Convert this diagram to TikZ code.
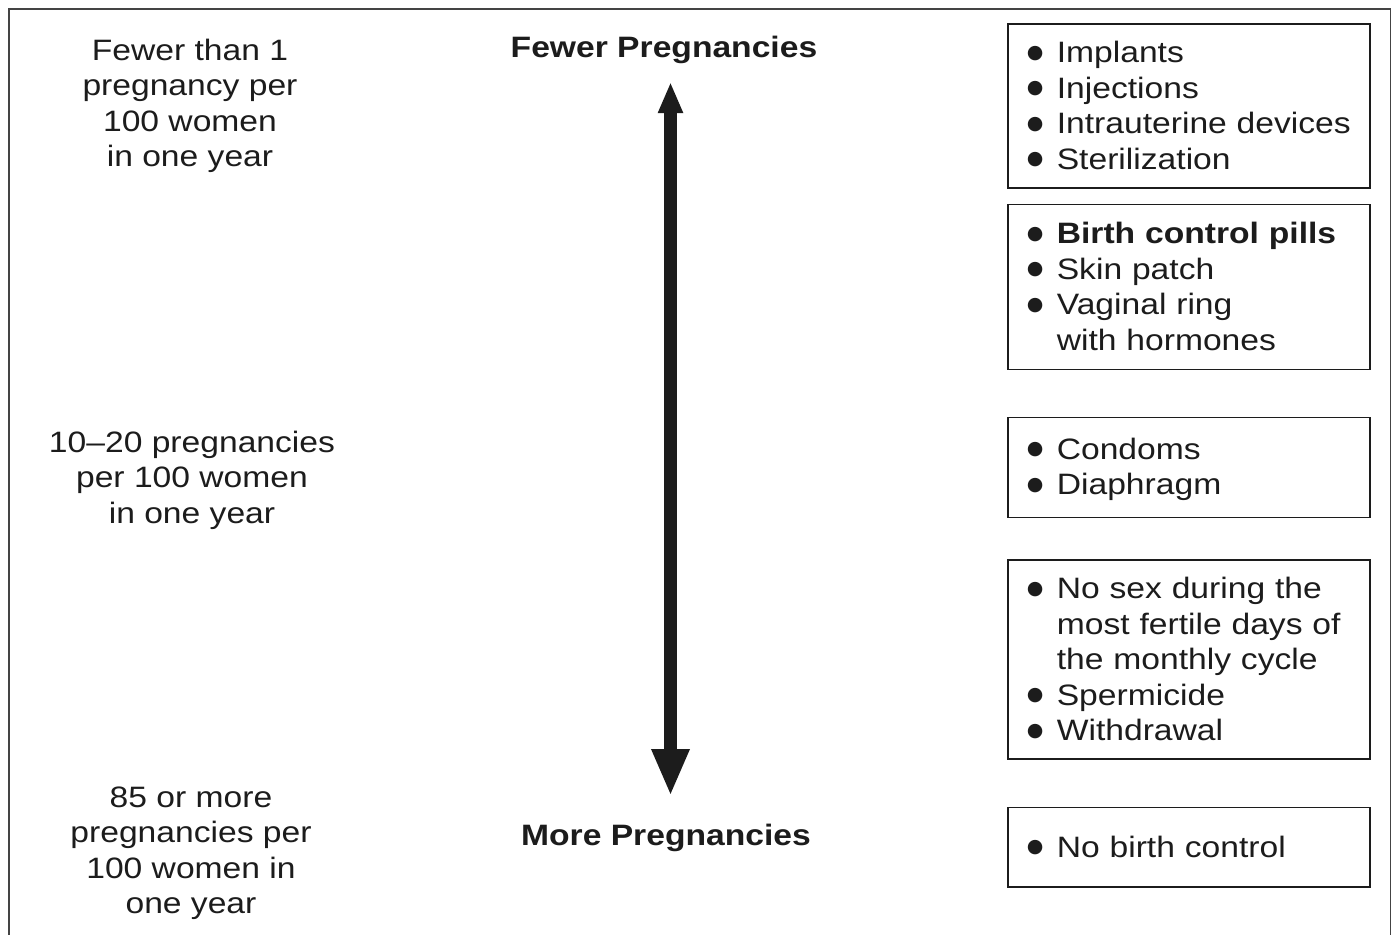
\documentclass[tikz,border=0pt]{standalone}
\usepackage{fontspec}
\setmainfont{Liberation Sans}[FakeStretch=1.14]
\newfontfamily\bulfont{DejaVu Sans}
\usetikzlibrary{arrows.meta}
\definecolor{ink}{HTML}{1C1C1C}
\definecolor{framec}{HTML}{444444}
\newcommand\bul{\makebox[31pt][l]{\hspace{1pt}\raisebox{4.5pt}{\bulfont\fontsize{19pt}{19pt}\selectfont ●}}}
\newcommand\ind{\hspace*{31pt}}
\newcommand\topS{\rule{0pt}{26pt}}
\newcommand\botS{\rule[-6pt]{0pt}{6pt}}
\newcommand\bitem[1]{\mbox{\bul #1}}
\newcommand\citem[1]{\mbox{\ind #1}}
\begin{document}
\begin{tikzpicture}[x=1pt,y=-1pt,
  every node/.style={text=ink, font=\fontsize{29.5pt}{35.5pt}\selectfont},
  lbl/.style={anchor=north, align=center, inner sep=0pt},
  head/.style={anchor=base, inner sep=0pt, font=\fontsize{29.5pt}{35.5pt}\selectfont\bfseries},
  boxn/.style={draw=ink, line width=1.6pt, anchor=north west, inner xsep=18pt,
    inner ysep=0pt, text width=326pt, align=left},
  bigarrow/.style={draw=ink, line width=12.5pt,
    {Triangle[length=31pt,width=23pt]}-{Triangle[length=47pt,width=35pt]}}]
\useasboundingbox (0,0) rectangle (1394,934);
\fill[white] (0,0) rectangle (1394,934);
\draw[framec, line width=1.6pt] (9,9) rectangle (1390.5,960);

% left column labels
\node[lbl] (r1) at (190,34) {\topS Fewer than 1\\pregnancy per\\100 women\\in one year};
\node[lbl] (r2) at (192,426) {\topS 10–20 pregnancies\\per 100 women\\in one year};
\node[lbl] (r3) at (191,781) {\topS 85 or more\\pregnancies per\\100 women in\\one year};

% middle headings and arrow
\node[head] (few) at (664,57) {Fewer Pregnancies};
\node[head] (more) at (666,845) {More Pregnancies};
\coordinate (atop) at (670.5,82);
\coordinate (abot) at (670.5,796);
\draw[bigarrow] (atop) -- (abot);

% right boxes
\node[boxn, minimum height=164pt] (b1) at (1007,23)
  {\topS\bitem{Implants}\\\bitem{Injections}\\\bitem{Intrauterine devices}\\\bitem{Sterilization}\botS};
\node[boxn, minimum height=165pt] (b2) at (1007,203.5)
  {\topS\bitem{\textbf{Birth control pills}}\\\bitem{Skin patch}\\\bitem{Vaginal ring}\\\citem{with hormones}\botS};
\node[boxn, minimum height=100pt] (b3) at (1007,416.5)
  {\topS\bitem{Condoms}\\\bitem{Diaphragm}\botS};
\node[boxn, minimum height=199pt] (b4) at (1007,559.3)
  {\topS\bitem{No sex during the}\\\citem{most fertile days of}\\\citem{the monthly cycle}\\\bitem{Spermicide}\\\bitem{Withdrawal}\botS};
\node[boxn, minimum height=79.5pt] (b5) at (1007,806.7)
  {\topS\bitem{No birth control}\botS};
\end{tikzpicture}
\end{document}
